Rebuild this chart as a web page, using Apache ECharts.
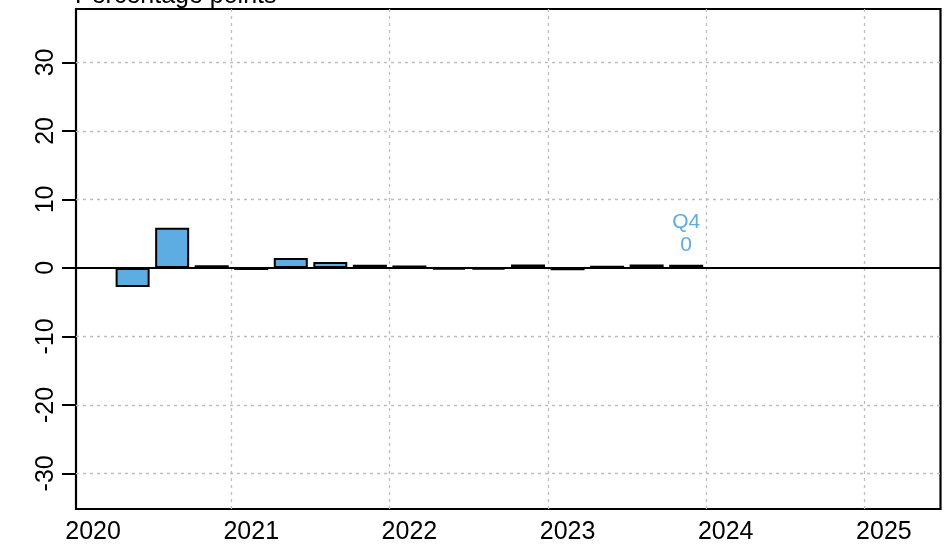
<!DOCTYPE html>
<html>
<head>
<meta charset="utf-8">
<script src="https://cdn.jsdelivr.net/npm/echarts@6/dist/echarts.min.js"></script>
<style>
html,body{margin:0;padding:0;background:#fff;}
#chart{width:947px;height:548px;}
</style>
</head>
<body>
<div id="chart"></div>
<script>
// ---- data ----
const periods = ['2020-Q2','2020-Q3','2020-Q4','2021-Q1','2021-Q2','2021-Q3','2021-Q4',
                 '2022-Q1','2022-Q2','2022-Q3','2022-Q4','2023-Q1','2023-Q2','2023-Q3','2023-Q4'];
const values = [-2.8, 5.85, 0.4, -0.3, 1.45, 0.85, 0.45, 0.35, -0.25, -0.25, 0.5, -0.35, 0.3, 0.5, 0.45];
const yearTicks = [2020, 2021, 2022, 2023, 2024, 2025];
const yTicks = [-30, -20, -10, 0, 10, 20, 30];
const yAxisTitle = 'Percentage points';
const xRange = [2020.017, 2025.483];
const yRange = [-35.2, 37.8];

const FONT = 'Liberation Sans, Arial, Helvetica, sans-serif';
const BLUE = '#5DADE2';

function periodToX(p) {
  const [y, q] = p.split('-Q');
  return Number(y) + (Number(q) - 0.5) / 4;
}
const barData = periods.map((p, i) => {
  const item = { value: [periodToX(p), values[i]] };
  if (i === periods.length - 1) {
    const q = p.split('-')[1];
    item.label = {
      show: true, position: 'top', distance: 8,
      formatter: () => q + '\n' + Math.round(values[i]),
      color: BLUE, fontSize: 21, lineHeight: 23, fontFamily: FONT
    };
  }
  return item;
});

const gridLines = [];
yearTicks.forEach(y => { if (y > xRange[0] && y < xRange[1]) gridLines.push({ xAxis: y }); });
yTicks.forEach(v => { if (v !== 0) gridLines.push({ yAxis: v }); });

const chart = echarts.init(document.getElementById('chart'), null, { renderer: 'canvas' });
chart.setOption({
  animation: false,
  backgroundColor: '#fff',
  graphic: [{
    type: 'text', x: 75, y: -4, z: 100,
    style: { text: yAxisTitle, font: '25px ' + FONT, fill: '#000', verticalAlign: 'middle', align: 'left' }
  }],
  grid: {
    left: 76, right: 6.5, top: 9, bottom: 39,
    show: true, borderColor: '#000', borderWidth: 2.2, backgroundColor: '#fff'
  },
  xAxis: {
    type: 'value', min: xRange[0], max: xRange[1],
    axisLine: { show: false },
    axisTick: { show: false },
    splitLine: { show: false },
    axisLabel: {
      customValues: yearTicks.map(y => y + 0.125),
      formatter: v => String(Math.floor(v)),
      fontSize: 25, fontFamily: FONT, color: '#000', margin: 11
    }
  },
  yAxis: {
    type: 'value', min: yRange[0], max: yRange[1],
    axisLine: { show: false },
    axisTick: { show: true, customValues: yTicks, length: 14, inside: false, lineStyle: { color: '#000', width: 2 } },
    splitLine: { show: false },
    axisLabel: {
      customValues: yTicks, rotate: 90,
      fontSize: 25, fontFamily: FONT, color: '#000', margin: 17
    }
  },
  series: [
    {
      type: 'line', data: [], z: 1, silent: true,
      markLine: {
        silent: true, symbol: 'none', label: { show: false },
        lineStyle: { color: '#BEBEBE', type: [3, 4], width: 1.3 },
        data: gridLines
      }
    },
    {
      type: 'bar', data: barData, barWidth: 34, z: 2,
      itemStyle: { color: BLUE, borderColor: '#000', borderWidth: 2 },
      markLine: {
        silent: true, symbol: 'none', label: { show: false },
        lineStyle: { color: '#000', type: 'solid', width: 1.8 },
        data: [{ yAxis: 0 }]
      }
    }
  ]
});
</script>
</body>
</html>
